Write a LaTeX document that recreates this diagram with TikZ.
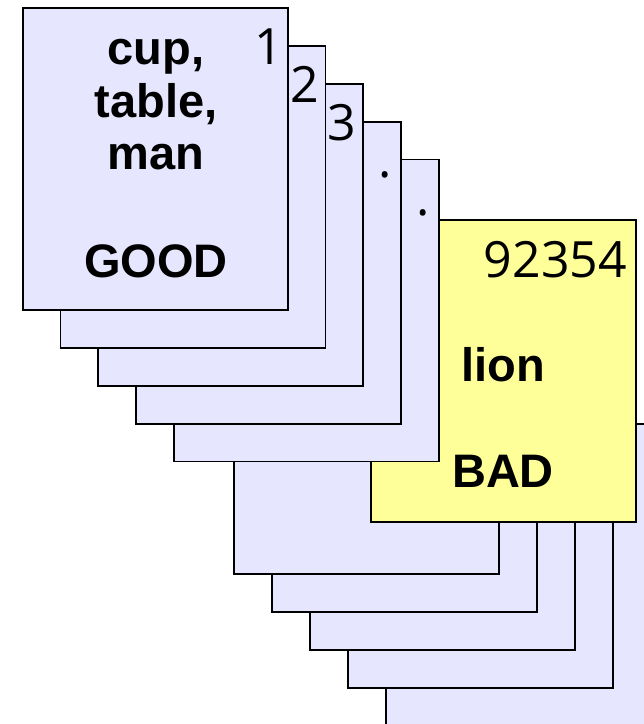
\documentclass[tikz,border=0pt]{standalone}
\usepackage{fontspec}
\setmainfont{Liberation Sans}
\newfontfamily\numfont{Open Sans}
\definecolor{lav}{RGB}{230,230,255}
\definecolor{yel}{RGB}{255,255,153}
\begin{document}
\begin{tikzpicture}[x=1pt,y=-1pt,
  card/.style={draw=black, line width=1.8pt, fill=lav, minimum width=265pt,
    minimum height=302pt, anchor=north west, inner sep=0pt, outer sep=0pt},
  ycard/.style={card, fill=yel},
  word/.style={font=\fontsize{47}{52}\selectfont\bfseries, anchor=base, inner sep=0pt},
  num/.style={font=\fontsize{50}{55}\numfont, anchor=base east, inner sep=0pt}]
\useasboundingbox (0,0) rectangle (644,724);
\clip (0,0) rectangle (644,724);
% lower stack (back to front)
\node[card] (l5) at (386,424) {};
\node[card] (l4) at (348,386) {};
\node[card] (l3) at (310,348) {};
\node[card] (l2) at (272,310) {};
\node[card] (l1) at (234,272) {};
% yellow card
\node[ycard] (y) at (371,220) {};
% upper stack (back to front)
\node[card] (c5) at (174,159.5) {};
\node[card] (c4) at (136,121.7) {};
\node[card] (c3) at (98,84) {};
\node[card] (c2) at (60.5,46) {};
\node[card] (c1) at (23,8) {};
% numbers
\node[num] (n1) at (283,64) {1};
\node[num] (n2) at (319,102) {2};
\node[num] (n3) at (356,140) {3};
\node[num] (n4) at (392,177) {.};
\node[num] (n5) at (430,215) {.};
\node[num] (ny) at (627,277) {92354};
% words
\node[word] (w1) at (156,64) {cup,};
\node[word] (w2) at (156,117) {table,};
\node[word] (w3) at (156,169) {man};
\node[word] (g) at (156,277) {GOOD};
\node[word] (w4) at (503,381) {lion};
\node[word] (b) at (503,487) {BAD};
\end{tikzpicture}
\end{document}
